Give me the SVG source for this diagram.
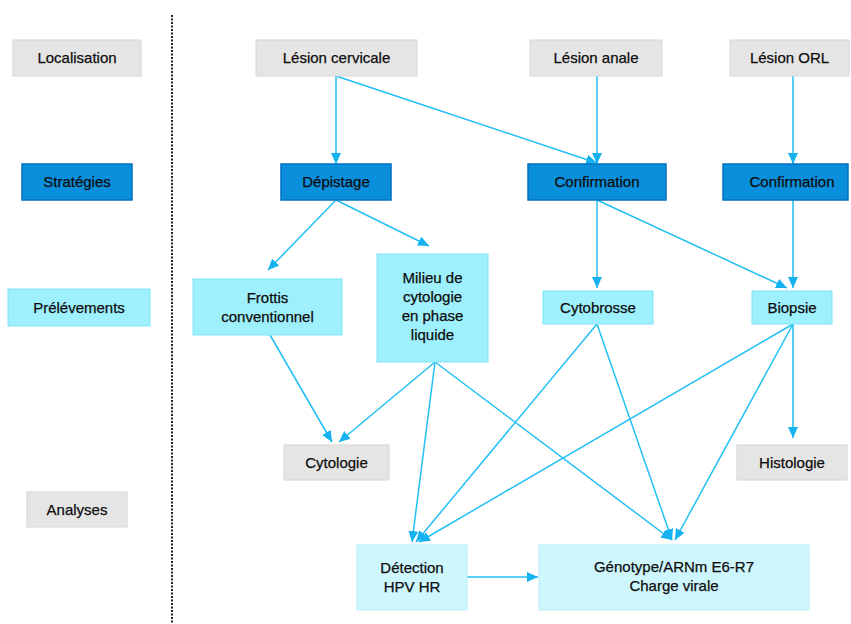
<svg xmlns="http://www.w3.org/2000/svg" width="851" height="624" viewBox="0 0 851 624">
<defs>
<style>
.g{fill:#e5e5e5;stroke:#d6d6d6;stroke-width:1}
.b{fill:#0a8fdc;stroke:#0270c0;stroke-width:1.5}
.c{fill:#9ef0fd;stroke:#7fe4f8;stroke-width:1}
.l{fill:#cdf7fd;stroke:#b8f0fa;stroke-width:1}
text{font-family:"Liberation Sans",Arial,sans-serif;font-size:15px;fill:#0d0d0d;stroke:#0d0d0d;stroke-width:0.25;text-anchor:middle}
.e{fill:none;stroke:#22bff3;stroke-width:1.5;marker-end:url(#ah)}
</style>
<marker id="ah" markerUnits="userSpaceOnUse" markerWidth="12" markerHeight="10" refX="11" refY="5" orient="auto">
<path d="M0,0 L11,5 L0,10 Z" fill="#15b2ef"/>
</marker>
</defs>
<rect width="851" height="624" fill="#fff"/>
<line x1="172" y1="15" x2="172" y2="624" stroke="#222" stroke-width="2" stroke-dasharray="2,1.5"/>

<g id="connectors">
<path class="e" d="M336,76 L336,164"/>
<path class="e" d="M336,76 L597,163"/>
<path class="e" d="M597,76 L597,164"/>
<path class="e" d="M793,76 L793,164"/>
<path class="e" d="M336,200 L268,270"/>
<path class="e" d="M336,200 L429,246"/>
<path class="e" d="M597,200 L597,288"/>
<path class="e" d="M597,200 L787,288"/>
<path class="e" d="M793,200 L793,288"/>
<path class="e" d="M270,335 L332,442"/>
<path class="e" d="M435,362 L339,442"/>
<path class="e" d="M435,362 L412,542"/>
<path class="e" d="M435,362 L672,540"/>
<path class="e" d="M597,324 L416,542"/>
<path class="e" d="M597,324 L672,540"/>
<path class="e" d="M793,324 L419,542"/>
<path class="e" d="M793,324 L675,540"/>
<path class="e" d="M793,324 L793,438"/>
<path class="e" d="M467,577 L538,577"/>
</g>

<g id="n-localisation"><rect class="g" x="13" y="40" width="128" height="36"/><text x="77" y="63">Localisation</text></g>
<g id="n-strategies"><rect class="b" x="22" y="164" width="110" height="36"/><text x="77" y="187">Stratégies</text></g>
<g id="n-prelevements"><rect class="c" x="8" y="289" width="142" height="37"/><text x="79" y="313">Prélévements</text></g>
<g id="n-analyses"><rect class="g" x="27" y="492" width="100" height="35"/><text x="77" y="515">Analyses</text></g>

<g id="n-lesion-cervicale"><rect class="g" x="256" y="40" width="161" height="36"/><text x="336.5" y="63">Lésion cervicale</text></g>
<g id="n-lesion-anale"><rect class="g" x="530" y="40" width="132" height="36"/><text x="596" y="63">Lésion anale</text></g>
<g id="n-lesion-orl"><rect class="g" x="730" y="40" width="119" height="36"/><text x="789.5" y="63">Lésion ORL</text></g>

<g id="n-depistage"><rect class="b" x="281" y="164" width="110" height="36"/><text x="336" y="187">Dépistage</text></g>
<g id="n-confirmation1"><rect class="b" x="528" y="164" width="138" height="36"/><text x="597" y="187">Confirmation</text></g>
<g id="n-confirmation2"><rect class="b" x="723" y="164" width="125" height="36"/><text x="792" y="187">Confirmation</text></g>

<g id="n-frottis"><rect class="c" x="193" y="279" width="149" height="56"/><text x="267.5" y="303">Frottis</text><text x="267.5" y="322">conventionnel</text></g>
<g id="n-milieu"><rect class="c" x="377" y="254" width="111" height="108"/><text x="432.5" y="283">Milieu de</text><text x="432.5" y="302">cytologie</text><text x="432.5" y="321">en phase</text><text x="432.5" y="340">liquide</text></g>
<g id="n-cytobrosse"><rect class="c" x="543" y="291" width="110" height="33"/><text x="598" y="313">Cytobrosse</text></g>
<g id="n-biopsie"><rect class="c" x="752" y="291" width="80" height="33"/><text x="792" y="313">Biopsie</text></g>

<g id="n-cytologie"><rect class="g" x="284" y="445" width="105" height="35"/><text x="336.5" y="468">Cytologie</text></g>
<g id="n-histologie"><rect class="g" x="737" y="445" width="110" height="35"/><text x="792" y="468">Histologie</text></g>
<g id="n-detection"><rect class="l" x="357" y="545" width="110" height="65"/><text x="412" y="573">Détection</text><text x="412" y="592">HPV HR</text></g>
<g id="n-genotype"><rect class="l" x="539" y="545" width="270" height="65"/><text x="674" y="572">Génotype/ARNm E6-R7</text><text x="674" y="591">Charge virale</text></g>
</svg>
